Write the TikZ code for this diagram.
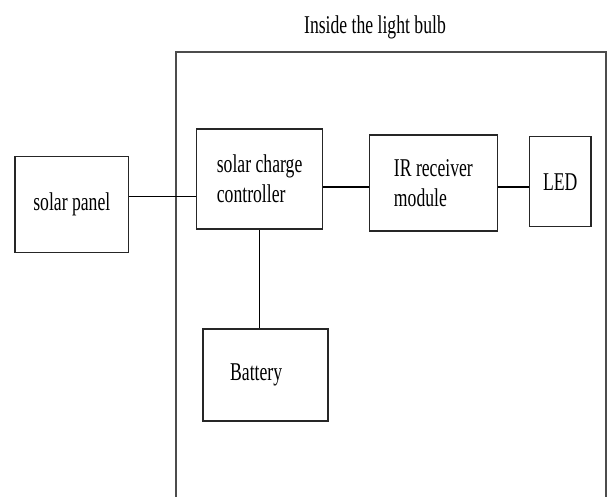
\documentclass[tikz,border=0pt]{standalone}
\usepackage{fontspec}
\setmainfont[FakeStretch=0.69]{Liberation Serif}
\begin{document}
\begin{tikzpicture}[font=\fontsize{18.2}{21.3}\selectfont,
  block/.style={draw=black!85, line width=1.1pt, align=left}]
\useasboundingbox (0,0) rectangle (15.175,-12.425);
\node (title) at (9.375,-0.675) {Inside the light bulb};
\draw[black!70, line width=1.1pt] (4.4,-12.425) |- (15.15,-1.3) -- (15.15,-12.425);
\node[block, minimum width=2.843cm, minimum height=2.4cm] (panel) at (1.795,-5.118) {solar panel};
\node[block, minimum width=3.155cm, minimum height=2.5cm] (ctrl) at (6.49,-4.475) {solar charge\\controller};
\node[block, minimum width=3.195cm, minimum height=2.4cm] (ir) at (10.835,-4.575) {IR receiver\\module};
\node[block, minimum width=1.543cm, minimum height=2.25cm] (led) at (14.005,-4.543) {LED};
\node[block, minimum width=3.125cm, minimum height=2.3cm] (bat) at (6.638,-9.375) {\raisebox{-0.12cm}{Battery}\hspace{0.47cm}};
\draw[line width=0.8pt] ([yshift=2mm]panel.east) -- ([yshift=2mm]panel.east -| ctrl.west);
\draw[line width=0.8pt] ([yshift=-1mm]ir.west -| ctrl.east) -- ([yshift=-1mm]ir.west);
\draw[line width=0.8pt] ([yshift=-1mm]ir.east) -- ([yshift=-1mm]ir.east -| led.west);
\draw[line width=0.8pt] (ctrl.south) -- (ctrl.south |- bat.north);
\end{tikzpicture}
\end{document}
